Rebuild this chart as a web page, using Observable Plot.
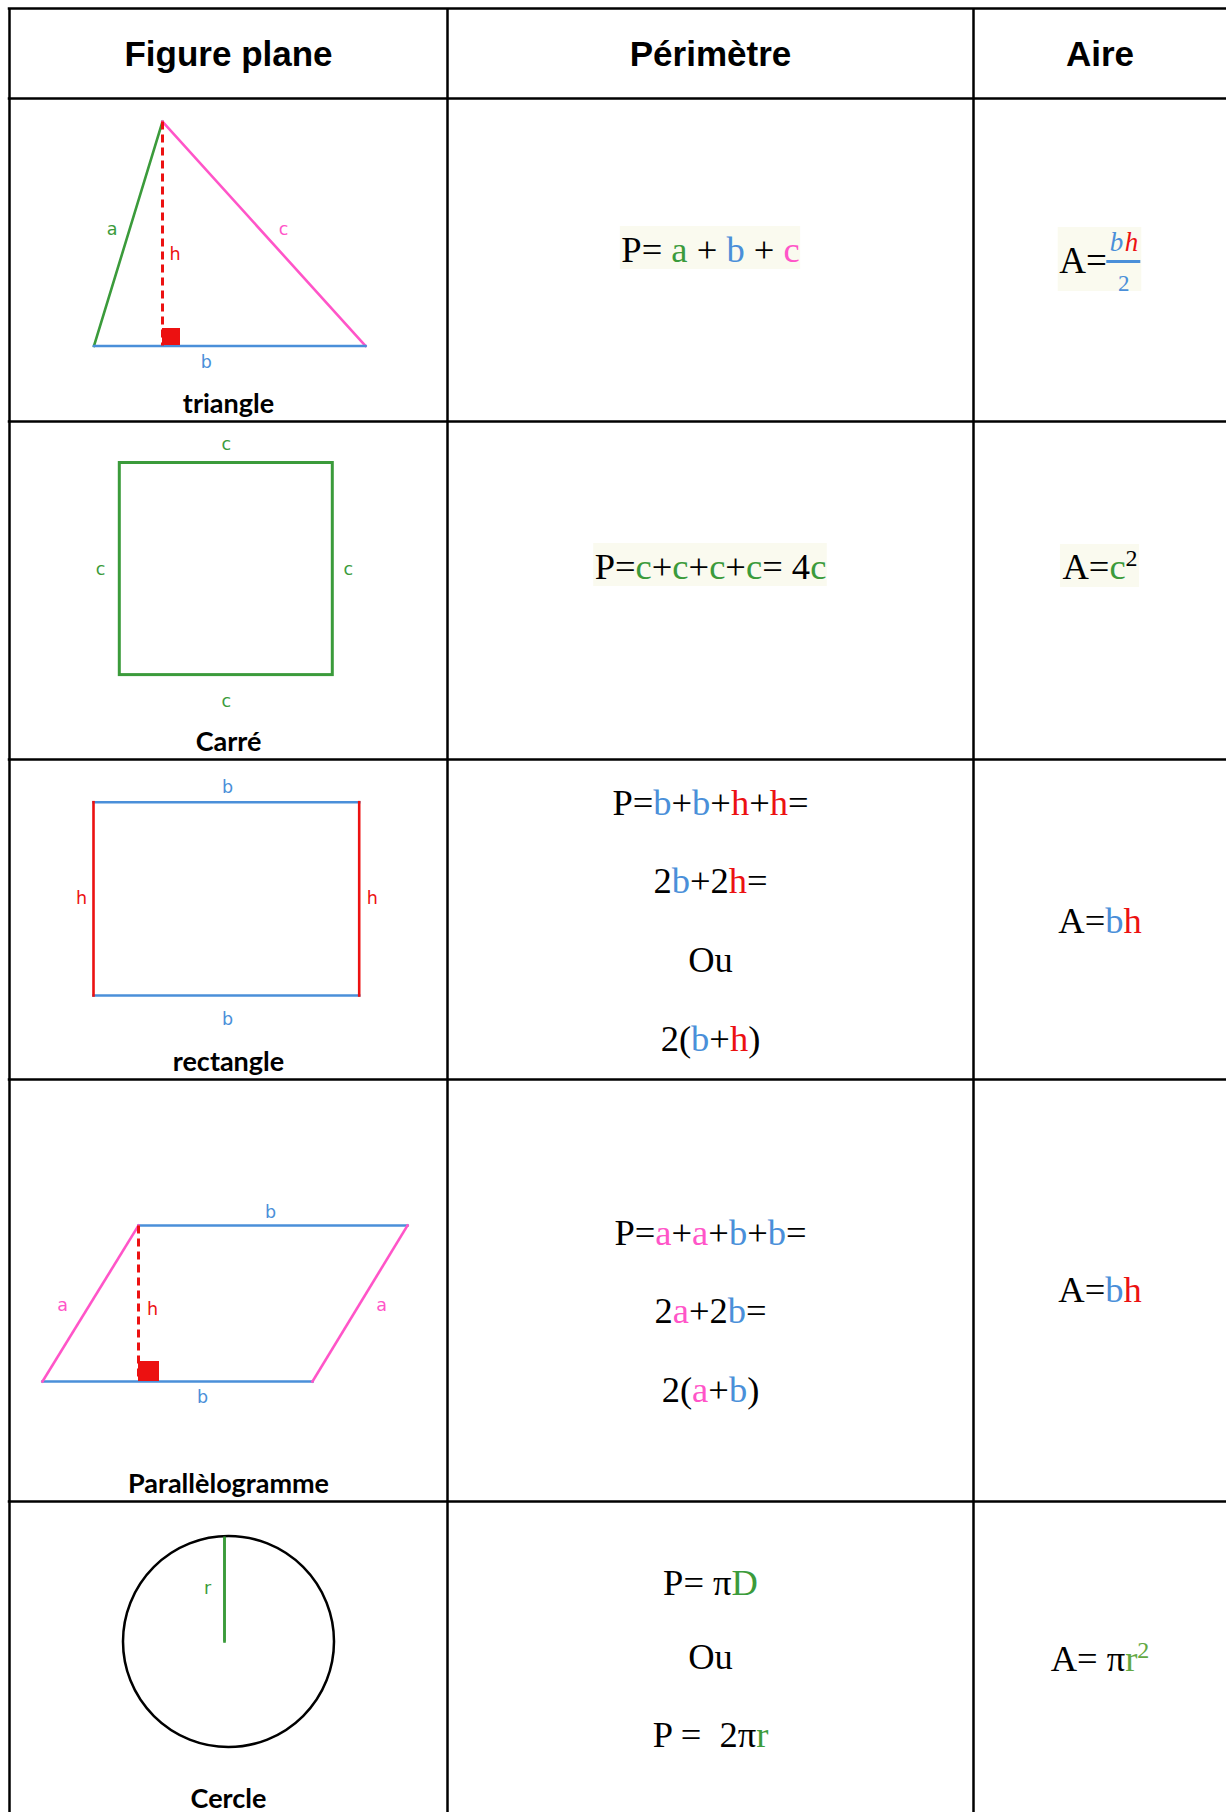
<!DOCTYPE html>
<html><head><meta charset="utf-8">
<script src="https://cdn.jsdelivr.net/npm/d3@7"></script>
<script src="https://cdn.jsdelivr.net/npm/@observablehq/plot@0.6"></script>
<style>
html,body{margin:0;padding:0;background:#fff;}
#chart svg{display:block;}
#chart svg text{white-space:pre;}
</style>
</head><body><div id="chart"></div>
<script>
// ================= DATA =================
const headers = ["Figure plane", "Périmètre", "Aire"];
const figureNames = ["triangle", "Carré", "rectangle", "Parallèlogramme", "Cercle"];

// colour keys: k black, g green, b blue, p pink, r red, l light green ; "sup" = superscript
const perimeterFormulas = [
  [[["P= ","k"],["a","g"],[" + ","k"],["b","b"],[" + ","k"],["c","p"]]],
  [[["P=","k"],["c","g"],["+","k"],["c","g"],["+","k"],["c","g"],["+","k"],["c","g"],["= 4","k"],["c","g"]]],
  [[["P=","k"],["b","b"],["+","k"],["b","b"],["+","k"],["h","r"],["+","k"],["h","r"],["=","k"]],
   [["2","k"],["b","b"],["+2","k"],["h","r"],["=","k"]],
   [["Ou","k"]],
   [["2(","k"],["b","b"],["+","k"],["h","r"],[")","k"]]],
  [[["P=","k"],["a","p"],["+","k"],["a","p"],["+","k"],["b","b"],["+","k"],["b","b"],["=","k"]],
   [["2","k"],["a","p"],["+2","k"],["b","b"],["=","k"]],
   [["2(","k"],["a","p"],["+","k"],["b","b"],[")","k"]]],
  [[["P= π","k"],["D","g"]],
   [["Ou","k"]],
   [["P =  2π","k"],["r","g"]]]
];

// triangle area is a fraction A = bh / 2
const triangleArea = {lhs: [["A=","k"]], num: [["b","b"],["h","r"]], den: [["2","b"]]};
const areaFormulas = [
  null,
  [["A=","k"],["c","g"],["2","k","sup"]],
  [["A=","k"],["b","b"],["h","r"]],
  [["A=","k"],["b","b"],["h","r"]],
  [["A= π","k"],["r","l"],["2","l","sup"]]
];

// side labels of each figure: [letter, colour key]
const sideLabels = [
  [["a","g"],["c","p"],["h","r"],["b","b"]],
  [["c","g"],["c","g"],["c","g"],["c","g"]],
  [["b","b"],["b","b"],["h","r"],["h","r"]],
  [["b","b"],["b","b"],["a","p"],["a","p"],["h","r"]],
  [["r","g"]]
];

// ================= LAYOUT / STYLE =================
const COLORS = {k:"#000000", g:"#3b9b3b", b:"#4a8fd9", p:"#ff55c8", r:"#ec1111", l:"#62a843"};
const HIGHLIGHT = "#fafaef";
const SERIF = "'Liberation Serif','Times New Roman',serif";
const SANS = "'Liberation Sans',Arial,sans-serif";
const NAMEFONT = "Lato,'Open Sans',sans-serif";
const LABELFONT = "'DejaVu Sans',sans-serif";

const layout = {
  W: 1226, H: 1812,
  cols: [9, 447, 973, 1226],
  rows: [8, 98, 421, 759, 1079, 1501, 1812],
  headerBaseline: 65,
  nameBaselines: [412, 750, 1070, 1492, 1807],
  periBaselines: [[261],[578],[814,892,971,1050],[1244,1322,1401],[1594,1668,1746]],
  areaBaselines: [272, 578, 932, 1301, 1670],
  highlightPeri: [0, 1],
  highlightArea: [0, 1],
  formulaSize: 36.5, supSize: 24, supDy: -13,
  // label anchor points (baseline) per figure
  labelPos: [
    [[111.5,234],[283,234],[174.5,259],[205.7,367]],
    [[225.7,449],[100,574],[347.7,574],[225.7,706]],
    [[227,792.5],[227,1024],[81,903],[371.7,903]],
    [[270,1217],[202,1402.5],[62,1310],[381,1310],[152,1314]],
    [[207,1593]]
  ]
};

// geometry of the drawn figures
const shapeSegments = [
  // triangle
  {x1:162,y1:121,x2:93.5,y2:345.5,c:"g"},
  {x1:162,y1:121,x2:365,y2:345.5,c:"p"},
  {x1:93.5,y1:345.5,x2:365,y2:345.5,c:"b"},
  // rectangle
  {x1:93,y1:801.7,x2:358.7,y2:801.7,c:"b"},
  {x1:93,y1:995,x2:358.7,y2:995,c:"b"},
  {x1:93,y1:801.7,x2:93,y2:995,c:"r"},
  {x1:358.7,y1:801.7,x2:358.7,y2:995,c:"r"},
  // parallelogram
  {x1:138,y1:1225,x2:407,y2:1225,c:"b"},
  {x1:42,y1:1381,x2:312,y2:1381,c:"b"},
  {x1:42,y1:1381,x2:138,y2:1225,c:"p"},
  {x1:312,y1:1381,x2:407,y2:1225,c:"p"},
  // circle radius
  {x1:224,y1:1536,x2:224,y2:1641,c:"g"}
];
const heightSegments = [
  {x1:162,y1:121,x2:162,y2:345,c:"r"},
  {x1:138,y1:1225,x2:138,y2:1381,c:"r"}
];
const rightAngles = [
  {x1:162,x2:180,y1:328,y2:345},
  {x1:138,x2:159,y1:1361,y2:1381}
];
const squareShape = [{x1:119.3,x2:332.3,y1:462.5,y2:674.6}];
const circleShape = [{x:228,y:1641,r:105.5}];

// ================= BUILD =================
const ctx = document.createElement("canvas").getContext("2d");
function measure(tokens, size, supSize, family, style = "") {
  let w = 0;
  for (const t of tokens) {
    ctx.font = `${style} ${t[2] === "sup" ? supSize : size}px ${family}`;
    w += ctx.measureText(t[0]).width;
  }
  return w;
}
const colCenter = i => (layout.cols[i] + layout.cols[i + 1]) / 2;
const str = tokens => tokens.map(t => t[0]).join("");
const tokenMap = new Map();

const periTexts = [];
perimeterFormulas.forEach((lines, i) => lines.forEach((tokens, j) => {
  periTexts.push({x: colCenter(1), y: layout.periBaselines[i][j], s: str(tokens)});
  tokenMap.set(str(tokens), tokens);
}));
const areaTexts = [];
areaFormulas.forEach((tokens, i) => {
  if (!tokens) return;
  areaTexts.push({x: colCenter(2), y: layout.areaBaselines[i], s: str(tokens)});
  tokenMap.set(str(tokens), tokens);
});
tokenMap.set(str(triangleArea.num), triangleArea.num);

const FS = layout.formulaSize;
const highlights = [];
for (const i of layout.highlightPeri) {
  const tokens = perimeterFormulas[i][0];
  const w = measure(tokens, FS, layout.supSize, SERIF);
  const b = layout.periBaselines[i][0];
  highlights.push({x1: colCenter(1) - w/2 - 1, x2: colCenter(1) + w/2 + 1, y1: b - 35, y2: b + 8});
}
// fraction layout
const fracBarW = 34;
const lhsW = measure(triangleArea.lhs, 37, 24, SERIF);
const fracStart = colCenter(2) - (lhsW + fracBarW) / 2;
const fracBarX1 = fracStart + lhsW, fracBarX2 = fracBarX1 + fracBarW, fracMid = (fracBarX1 + fracBarX2) / 2;
const fb = layout.areaBaselines[0];
const fracParts = {
  lhs: [{x: fracStart, y: fb, s: str(triangleArea.lhs)}],
  num: [{x: fracMid + 1, y: fb - 22, s: str(triangleArea.num)}],
  den: [{x: fracMid, y: fb + 18, s: str(triangleArea.den)}],
  bar: [{x1: fracBarX1, x2: fracBarX2, y: fb - 11}]
};
for (const i of layout.highlightArea) {
  if (i === 0) {
    highlights.push({x1: fracStart - 1, x2: fracBarX2 + 1, y1: fb - 45, y2: fb + 19});
  } else {
    const tokens = areaFormulas[i];
    const w = measure(tokens, FS, layout.supSize, SERIF);
    const b = layout.areaBaselines[i];
    highlights.push({x1: colCenter(2) - w/2 - 2, x2: colCenter(2) + w/2 + 2, y1: b - 34, y2: b + 9});
  }
}

const labels = [];
sideLabels.forEach((arr, i) => arr.forEach((l, j) => {
  labels.push({t: l[0], c: l[1], x: layout.labelPos[i][j][0], y: layout.labelPos[i][j][1]});
}));

const chart = Plot.plot({
  width: layout.W, height: layout.H,
  margin: 0, marginTop: 0, marginRight: 0, marginBottom: 0, marginLeft: 0,
  x: {type: "linear", domain: [0, layout.W], range: [0, layout.W], axis: null},
  y: {type: "linear", domain: [0, layout.H], range: [0, layout.H], axis: null},
  color: {type: "identity"},
  style: {background: "#ffffff", overflow: "visible"},
  marks: [
    Plot.rect(highlights, {x1: "x1", x2: "x2", y1: "y1", y2: "y2", fill: HIGHLIGHT}),
    // table grid
    Plot.ruleX(layout.cols.slice(0, 3), {y1: layout.rows[0], y2: layout.rows[6], stroke: "#000", strokeWidth: 2.5}),
    Plot.ruleY(layout.rows.slice(0, 6), {x1: layout.cols[0] - 1.25, x2: layout.cols[3], stroke: "#000", strokeWidth: 2.5}),
    // headers
    Plot.text(headers, {x: (d, i) => colCenter(i), y: layout.headerBaseline, text: d => d,
      fontSize: 35, fontWeight: "bold", fontFamily: SANS, lineAnchor: "bottom", textAnchor: "middle", fill: "#000"}),
    // figures
    Plot.rect(squareShape, {x1: "x1", x2: "x2", y1: "y1", y2: "y2", fill: "none", stroke: COLORS.g, strokeWidth: 3}),
    Plot.link(shapeSegments, {x1: "x1", y1: "y1", x2: "x2", y2: "y2", stroke: d => COLORS[d.c], strokeWidth: 2.6, strokeLinecap: "square"}),
    Plot.link(heightSegments, {x1: "x1", y1: "y1", x2: "x2", y2: "y2", stroke: d => COLORS[d.c], strokeWidth: 3, strokeDasharray: "8,5"}),
    Plot.rect(rightAngles, {x1: "x1", x2: "x2", y1: "y1", y2: "y2", fill: COLORS.r}),
    Plot.dot(circleShape, {x: "x", y: "y", r: circleShape[0].r, stroke: "#000", fill: "none", strokeWidth: 2.5}),
    Plot.link(shapeSegments.slice(-1), {x1: "x1", y1: "y1", x2: "x2", y2: "y2", stroke: d => COLORS[d.c], strokeWidth: 2.6}),
    Plot.text(labels, {x: "x", y: "y", text: "t", fill: d => COLORS[d.c], fontSize: 17.5, fontFamily: LABELFONT, lineAnchor: "bottom", textAnchor: "middle"}),
    Plot.text(figureNames, {x: colCenter(0), y: (d, i) => layout.nameBaselines[i], text: d => d,
      fontSize: 27, fontWeight: "bold", fontFamily: NAMEFONT, lineAnchor: "bottom", textAnchor: "middle", fill: "#000"}),
    // formulas
    Plot.text(periTexts, {x: "x", y: "y", text: "s", fontSize: FS, fontFamily: SERIF, lineAnchor: "bottom", textAnchor: "middle", fill: "#000"}),
    Plot.text(areaTexts, {x: "x", y: "y", text: "s", fontSize: FS, fontFamily: SERIF, lineAnchor: "bottom", textAnchor: "middle", fill: "#000"}),
    Plot.text(fracParts.lhs, {x: "x", y: "y", text: "s", fontSize: 37, fontFamily: SERIF, lineAnchor: "bottom", textAnchor: "start", fill: "#000"}),
    Plot.text(fracParts.num, {x: "x", y: "y", text: "s", fontSize: 27, fontStyle: "italic", fontFamily: SERIF, lineAnchor: "bottom", textAnchor: "middle", fill: "#000"}),
    Plot.text(fracParts.den, {x: "x", y: "y", text: "s", fontSize: 23, fontFamily: SERIF, lineAnchor: "bottom", textAnchor: "middle", fill: COLORS.b}),
    Plot.ruleY(fracParts.bar, {x1: "x1", x2: "x2", y: "y", stroke: COLORS.b, strokeWidth: 3})
  ]
});

// colour the tokens of each formula with tspans (text stays real text)
const NS = "http://www.w3.org/2000/svg";
chart.querySelectorAll("text").forEach(el => {
  const tokens = tokenMap.get(el.textContent);
  if (!tokens || el.getAttribute("fill") === COLORS.b && el.textContent === "2") return;
  el.textContent = "";
  for (const t of tokens) {
    const ts = document.createElementNS(NS, "tspan");
    ts.textContent = t[0];
    ts.setAttribute("fill", COLORS[t[1]]);
    if (t[2] === "sup") {
      ts.setAttribute("font-size", layout.supSize);
      ts.setAttribute("dy", layout.supDy);
    }
    if (tokens === triangleArea.num) ts.setAttribute("letter-spacing", "1.5");
    el.appendChild(ts);
  }
});

document.getElementById("chart").appendChild(chart);
</script>
</body></html>
